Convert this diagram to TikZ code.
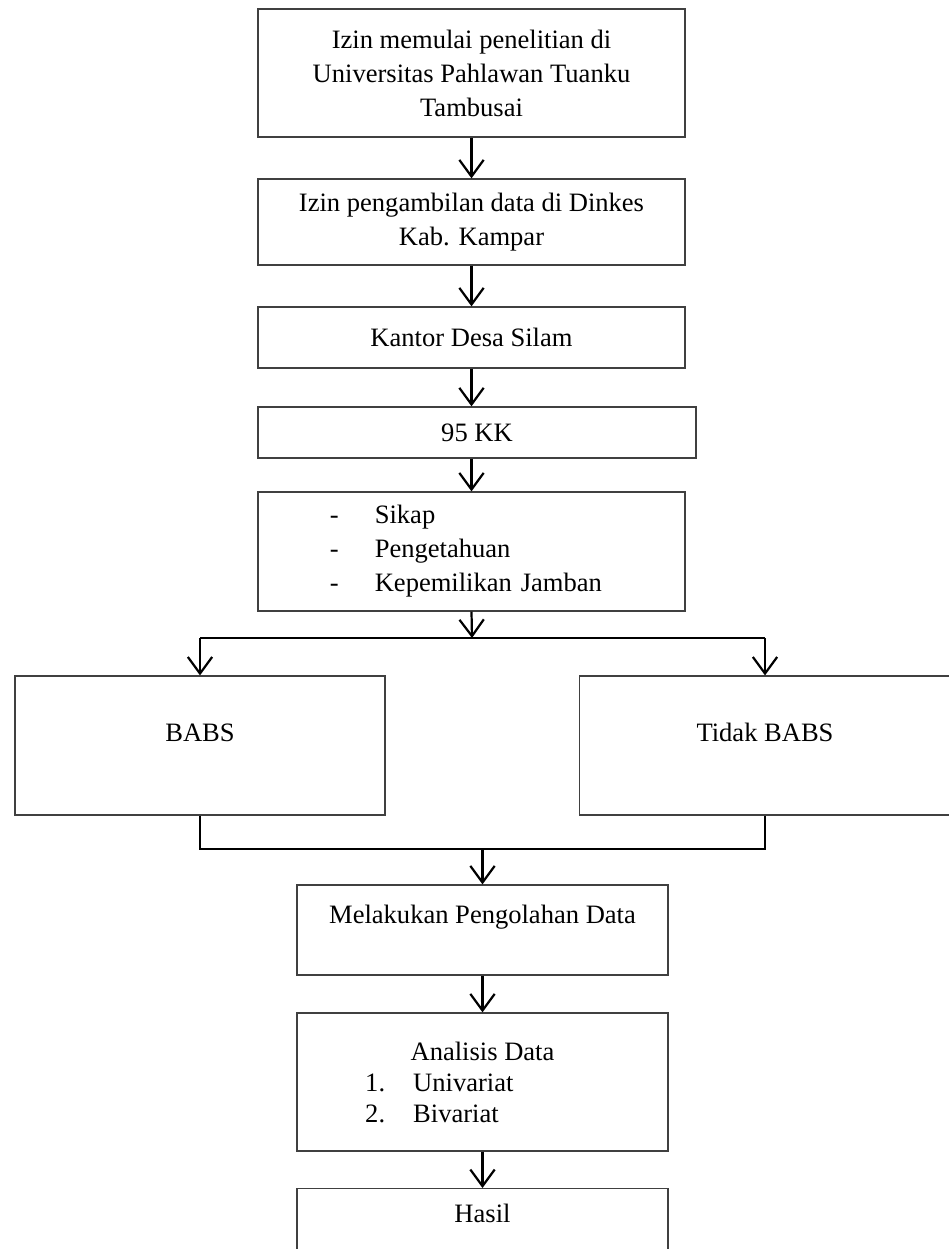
\documentclass[tikz,border=0pt]{standalone}
\usepackage{fontspec}
\setmainfont{Liberation Serif}
\usetikzlibrary{arrows.meta}

\tikzset{
    box/.style={draw=black!75, line width=0.55pt, align=center, inner sep=2pt,
        font=\fontsize{12}{15.4}\selectfont},
    arr/.style={line width=1pt, -{Straight Barb[length=7.5pt,width=11pt]}},
    conn/.style={line width=1pt},
}

\begin{document}
\begin{tikzpicture}[x=0.452pt, y=-0.452pt]
        \useasboundingbox (0,0) rectangle (948,1249);

        %%izin dan data
        \node[box, minimum width=193pt, minimum height=57.9pt] (izin) at (471.5,73)
            {Izin memulai penelitian di\\Universitas Pahlawan Tuanku\\Tambusai};
        \node[box, minimum width=193pt, minimum height=38.9pt] (dinkes) at (471.5,222)
            {Izin pengambilan data di Dinkes\\Kab. Kampar};
        \node[box, minimum width=193pt, minimum height=27.6pt] (kantor) at (471.5,337.5)
            {Kantor Desa Silam};
        \node[box, minimum width=198pt, minimum height=23.1pt] (kk) at (477,432.5)
            {95 KK};
        \node[box, align=left, text width=128pt, inner xsep=32.5pt, minimum height=53.8pt] (variabel) at (471.5,551.5)
            {\makebox[20.3pt][l]{-}Sikap\\\makebox[20.3pt][l]{-}Pengetahuan\\\makebox[20.3pt][l]{-}Kepemilikan Jamban};

        %%cabang
        \node[box, minimum width=167.2pt, minimum height=62.8pt, text height=8pt, text depth=11.8pt] (babs) at (200,745.5)
            {BABS};
        \node[box, minimum width=168pt, minimum height=62.8pt, text height=8pt, text depth=11.8pt] (tidak) at (765,745.5)
            {Tidak BABS};

        %%pengolahan
        \node[box, minimum width=167.7pt, minimum height=40.7pt, text height=8pt, text depth=13.6pt] (olah) at (482.5,930)
            {Melakukan Pengolahan Data};
        \node[box, minimum width=167.7pt, minimum height=62.4pt, font=\fontsize{12}{14}\selectfont] (analisis) at (482.5,1082)
            {Analisis Data\\\makebox[106pt][l]{\makebox[21.7pt][l]{1.}Univariat}\\\makebox[106pt][l]{\makebox[21.7pt][l]{2.}Bivariat}};
        \node[box, anchor=north, minimum width=167.7pt, minimum height=36pt, text height=8pt, text depth=13.4pt] (hasil) at (482.5,1188)
            {Hasil};

        \coordinate (split) at (472,638);
        \coordinate (merge) at (482.5,849);

        %%panah utama
        \draw[arr] (izin) -- (dinkes);
        \draw[arr] (dinkes) -- (kantor);
        \draw[arr] (kantor.south) -- (kantor.south |- kk.north);
        \draw[arr] (kantor.south |- kk.south) -- (kantor.south |- variabel.north);
        \draw[arr] (variabel.south) -- (split);

        %%percabangan
        \draw[conn] (split -| babs.north) -- (split -| tidak.north);
            \draw[arr] (split -| babs.north) -- (babs.north);
            \draw[arr] (split -| tidak.north) -- (tidak.north);

        %%penggabungan
        \draw[conn] (babs.south) -- (babs.south |- merge) -- (tidak.south |- merge) -- (tidak.south);
        \draw[arr] (merge) -- (olah.north);

        \draw[arr] (olah) -- (analisis);
        \draw[arr] (analisis) -- (hasil);
\end{tikzpicture}
\end{document}
